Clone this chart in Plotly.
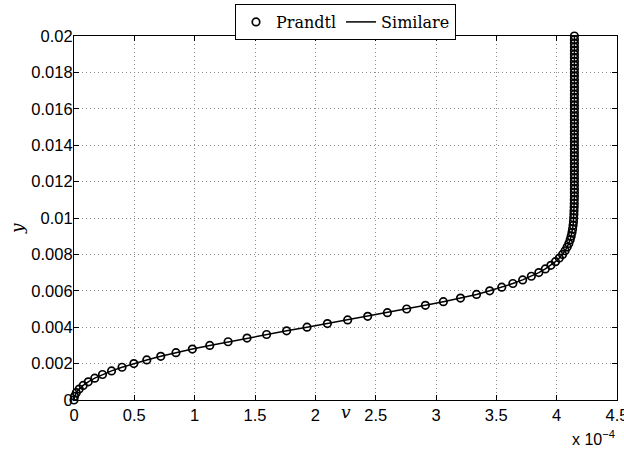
import plotly.graph_objects as go

# y positions (uniform step 0.0002) and v values in units of 1e-4
y_vals = [round(i * 0.0002, 4) for i in range(101)]
v_e4 = [
    0.000, 0.005, 0.019, 0.043, 0.076, 0.118, 0.172, 0.236, 0.311, 0.398,
    0.496, 0.603, 0.719, 0.845, 0.981, 1.125, 1.277, 1.434, 1.596, 1.762,
    1.931, 2.100, 2.268, 2.434, 2.597, 2.757, 2.912, 3.061, 3.203, 3.336,
    3.445, 3.545, 3.637, 3.718, 3.790, 3.852, 3.906, 3.952, 3.990, 4.022,
    4.049, 4.070, 4.087, 4.101, 4.112, 4.120, 4.127, 4.132, 4.136, 4.139,
    4.141, 4.143, 4.144, 4.145, 4.146, 4.146, 4.147, 4.147, 4.147, 4.147,
    4.147, 4.147, 4.147, 4.147, 4.147, 4.147, 4.147, 4.147, 4.147, 4.147,
    4.147, 4.147, 4.147, 4.147, 4.147, 4.147, 4.147, 4.147, 4.147, 4.147,
    4.147, 4.147, 4.147, 4.147, 4.147, 4.147, 4.147, 4.147, 4.147, 4.147,
    4.147, 4.147, 4.147, 4.147, 4.147, 4.147, 4.147, 4.147, 4.147, 4.147,
    4.147,
]

x_ticks = [0, 0.5, 1, 1.5, 2, 2.5, 3, 3.5, 4, 4.5]
x_ticklabels = ["0", "0.5", "1", "1.5", "2", "2.5", "3", "3.5", "4", "4.5"]
y_ticks = [0, 0.002, 0.004, 0.006, 0.008, 0.01, 0.012, 0.014, 0.016, 0.018, 0.02]
y_ticklabels = ["0", "0.002", "0.004", "0.006", "0.008", "0.01", "0.012",
                "0.014", "0.016", "0.018", "0.02"]

fig = go.Figure()
fig.add_trace(go.Scatter(
    x=v_e4, y=y_vals, mode="lines", name="Similare",
    line=dict(color="black", width=1.5), legendrank=2,
))
fig.add_trace(go.Scatter(
    x=v_e4, y=y_vals, mode="markers", name="Prandtl", cliponaxis=False,
    marker=dict(symbol="circle-open", size=7.5, color="black",
                line=dict(width=1.7, color="black")),
    legendrank=1,
))

axis_common = dict(
    showline=True, linecolor="black", linewidth=1.2, mirror="ticks",
    ticks="inside", ticklen=5, tickwidth=1, tickcolor="black",
    showgrid=True, gridcolor="#8c8c8c", griddash="1px,3px", gridwidth=1,
    zeroline=False, automargin=False, ticklabeloverflow="allow",
    tickfont=dict(family="Liberation Sans, Arial, sans-serif", size=16.5, color="black"),
)

fig.update_xaxes(range=[0, 4.5], tickvals=x_ticks, ticktext=x_ticklabels, **axis_common)
fig.update_yaxes(range=[0, 0.02], tickvals=y_ticks, ticktext=y_ticklabels,
                 ticklabelstandoff=-3, **axis_common)

fig.update_layout(
    width=624, height=450,
    margin=dict(l=74, r=7, t=36, b=50, autoexpand=False),
    paper_bgcolor="white", plot_bgcolor="white",
    showlegend=True,
    legend=dict(
        orientation="h", x=0.5, xanchor="center",
        yref="container", y=1 - 4 / 450, yanchor="top",
        bordercolor="black", borderwidth=1, bgcolor="white",
        font=dict(family="DejaVu Serif, serif", size=16, color="black"),
        itemwidth=30, tracegroupgap=0,
    ),
    annotations=[
        dict(text="<i>v</i>", x=0.5, y=-0.033, xref="paper", yref="paper",
             xanchor="center", yanchor="middle", showarrow=False,
             font=dict(family="DejaVu Serif, serif", size=17, color="black")),
        dict(text="<i>y</i>", x=-0.105, y=0.4725, xref="paper", yref="paper",
             xanchor="center", yanchor="middle", showarrow=False, textangle=-90,
             font=dict(family="DejaVu Serif, serif", size=17, color="black")),
        dict(text="x 10<sup>−4</sup>", x=1.0, y=-0.104, xref="paper", yref="paper",
             xanchor="right", yanchor="middle", showarrow=False,
             font=dict(family="Liberation Sans, Arial, sans-serif", size=16, color="black")),
    ],
)

# remove the default page margin so the 624x450 figure fills the window exactly
fig.write_html(
    "out.html",
    config={"displayModeBar": False},
    post_script="document.body.style.margin='0';document.body.style.overflow='hidden';",
)
